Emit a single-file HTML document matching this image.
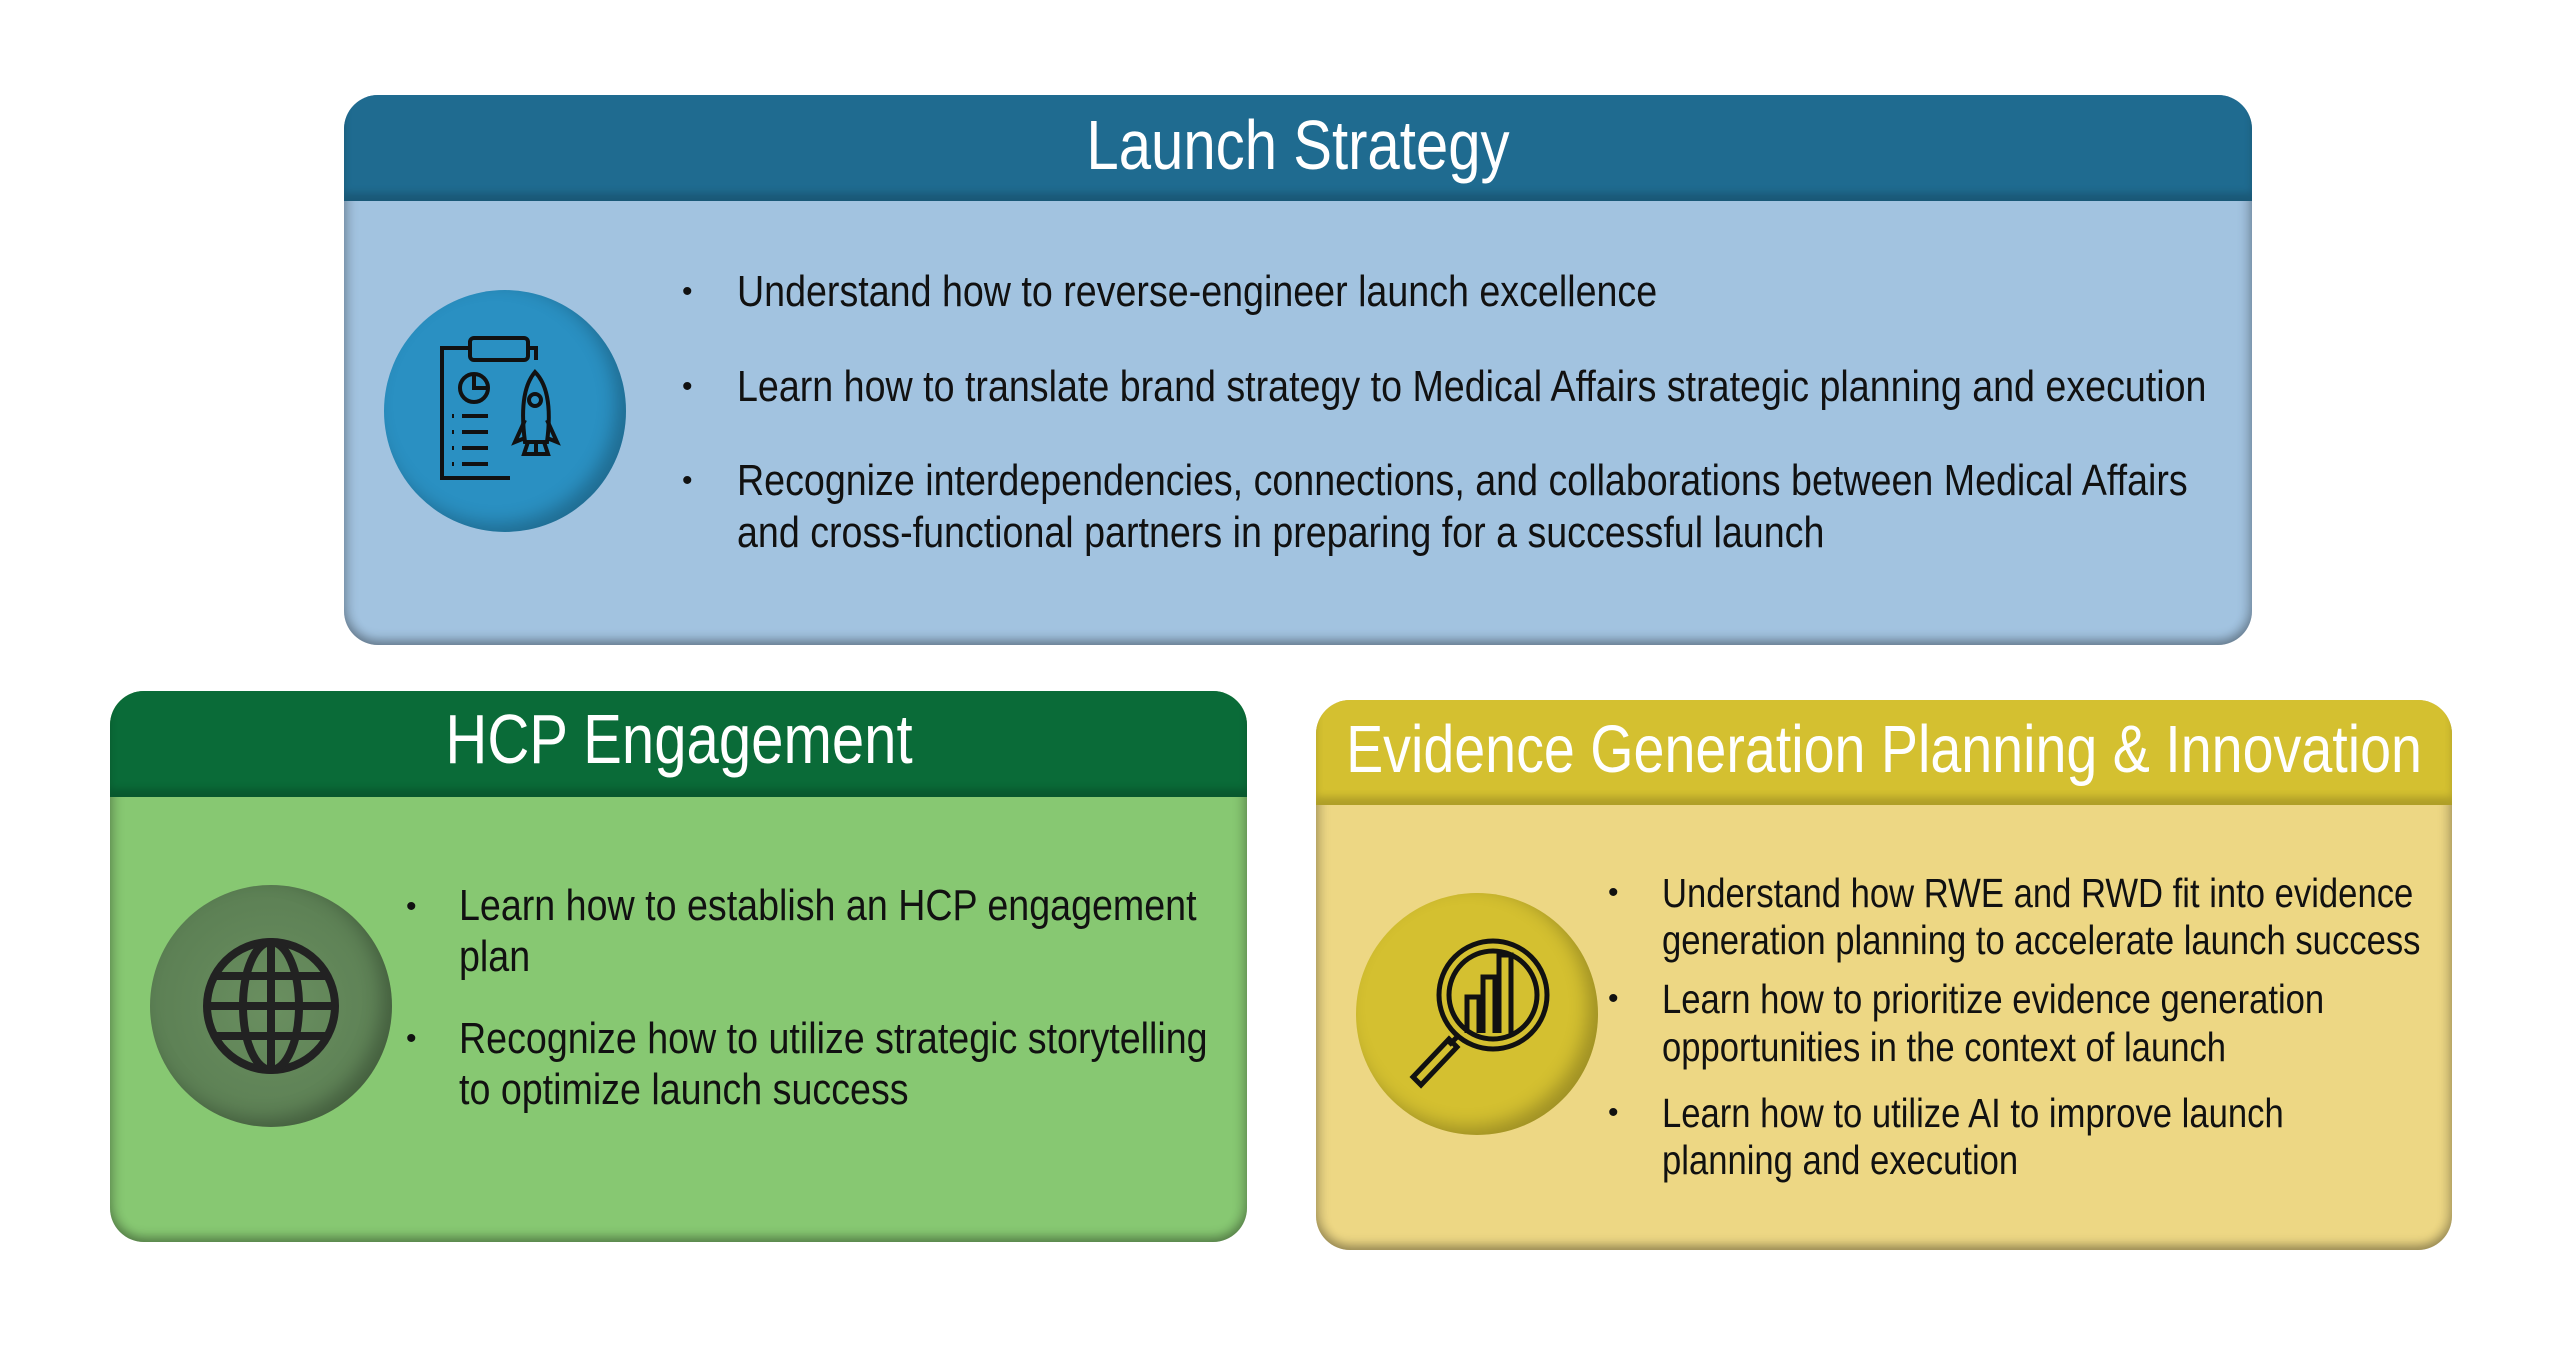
<!DOCTYPE html>
<html><head><meta charset="utf-8"><style>
*{margin:0;padding:0;box-sizing:border-box}
body{width:2560px;height:1369px;background:#fff;position:relative;overflow:hidden;font-family:"Liberation Sans",sans-serif}
.box{position:absolute;border-radius:34px;overflow:hidden;box-shadow:inset 0 -6px 10px rgba(0,0,0,.25),inset 6px 0 10px rgba(0,0,0,.12),inset -6px 0 10px rgba(0,0,0,.12)}
.hd{position:absolute;left:0;right:0;top:0;color:#fff;font-size:70px;white-space:nowrap;box-shadow:inset 0 -8px 8px rgba(0,0,0,.18)}
.hd span{position:absolute;left:50%;top:0;transform:translateX(-50%) scaleX(.83)}
.t{position:absolute;font-size:44px;color:#111;white-space:nowrap;line-height:1;transform:scaleX(.855);transform-origin:left top}
.e{font-size:40.5px}
.b{position:absolute;font-size:30px;color:#111;line-height:1}
.c{position:absolute;border-radius:50%;width:242px;height:242px;box-shadow:inset -10px -8px 18px rgba(0,0,0,.25)}
</style></head><body>

<div class="box" style="left:344px;top:95px;width:1908px;height:550px;background:#a2c3e0">
 <div class="hd" style="height:106px;background:#1f6b90;line-height:100px"><span>Launch Strategy</span></div>
</div>
<div class="c" style="left:384px;top:290px;background:#2a90c2"></div>
<svg style="position:absolute;left:430px;top:330px" width="150" height="160" viewBox="0 0 150 160" fill="none" stroke="#111" stroke-width="4">
<rect x="40" y="8" width="58" height="22" rx="4"/><path d="M40 18H12v130h68M98 18h8v12"/>
<circle cx="44" cy="58" r="14"/><path d="M44 44v14h14"/>
<path d="M22 86h2M32 86h26M22 102h2M32 102h26M22 118h2M32 118h26M22 134h2M32 134h26"/>
<path d="M105 42c-12 14-14 40-10 70h22c4-30 2-56-12-70z"/><circle cx="105" cy="70" r="6"/>
<path d="M95 90l-10 22 10-4M117 90l10 22-10-4M98 112l-4 12h24l-4-12M106 112v12"/>
</svg>
<div class="b" style="left:682px;top:277px">•</div><div class="t" style="left:737px;top:270px">Understand how to reverse-engineer launch excellence</div>
<div class="b" style="left:682px;top:372px">•</div><div class="t" style="left:737px;top:365px">Learn how to translate brand strategy to Medical Affairs strategic planning and execution</div>
<div class="b" style="left:682px;top:466px">•</div><div class="t" style="left:737px;top:459px">Recognize interdependencies, connections, and collaborations between Medical Affairs</div>
<div class="t" style="left:737px;top:511px">and cross-functional partners in preparing for a successful launch</div>

<div class="box" style="left:110px;top:691px;width:1137px;height:551px;background:#87c872">
 <div class="hd" style="height:106px;background:#0a6b38;line-height:96px"><span>HCP Engagement</span></div>
</div>
<div class="c" style="left:150px;top:885px;background:radial-gradient(circle at 50% 50%,#6a8f60,#56794f)"></div>
<svg style="position:absolute;left:199px;top:934px" width="144" height="144" viewBox="0 0 144 144" fill="none" stroke="#222" stroke-width="8">
<circle cx="72" cy="72" r="64"/><ellipse cx="72" cy="72" rx="28" ry="64"/><path d="M72 8v128M8 72h128M16 42h112M16 102h112"/>
</svg>
<div class="b" style="left:406px;top:892px">•</div><div class="t" style="left:459px;top:884px">Learn how to establish an HCP engagement</div>
<div class="t" style="left:459px;top:935px">plan</div>
<div class="b" style="left:406px;top:1024px">•</div><div class="t" style="left:459px;top:1017px">Recognize how to utilize strategic storytelling</div>
<div class="t" style="left:459px;top:1068px">to optimize launch success</div>

<div class="box" style="left:1316px;top:700px;width:1136px;height:550px;background:#edd784">
 <div class="hd" style="height:105px;background:#d4c030;line-height:100px;font-size:67px"><span>Evidence Generation Planning &amp; Innovation</span></div>
</div>
<div class="c" style="left:1356px;top:893px;background:#d4c030"></div>
<svg style="position:absolute;left:1395px;top:935px" width="170" height="160" viewBox="0 0 170 160" fill="none" stroke="#111" stroke-width="5">
<circle cx="98" cy="60" r="54"/><circle cx="98" cy="60" r="44"/>
<path d="M72 98V62h12v36M88 98V42h12v56M104 98V20h12v80M64 100l-10 10M54 104l-36 38 8 8 36-38z"/>
</svg>
<div class="b" style="left:1608px;top:878px">•</div><div class="t e" style="left:1662px;top:873px">Understand how RWE and RWD fit into evidence</div>
<div class="t e" style="left:1662px;top:920px">generation planning to accelerate launch success</div>
<div class="b" style="left:1608px;top:984px">•</div><div class="t e" style="left:1662px;top:979px">Learn how to prioritize evidence generation</div>
<div class="t e" style="left:1662px;top:1027px">opportunities in the context of launch</div>
<div class="b" style="left:1608px;top:1098px">•</div><div class="t e" style="left:1662px;top:1093px">Learn how to utilize AI to improve launch</div>
<div class="t e" style="left:1662px;top:1140px">planning and execution</div>
</body></html>
